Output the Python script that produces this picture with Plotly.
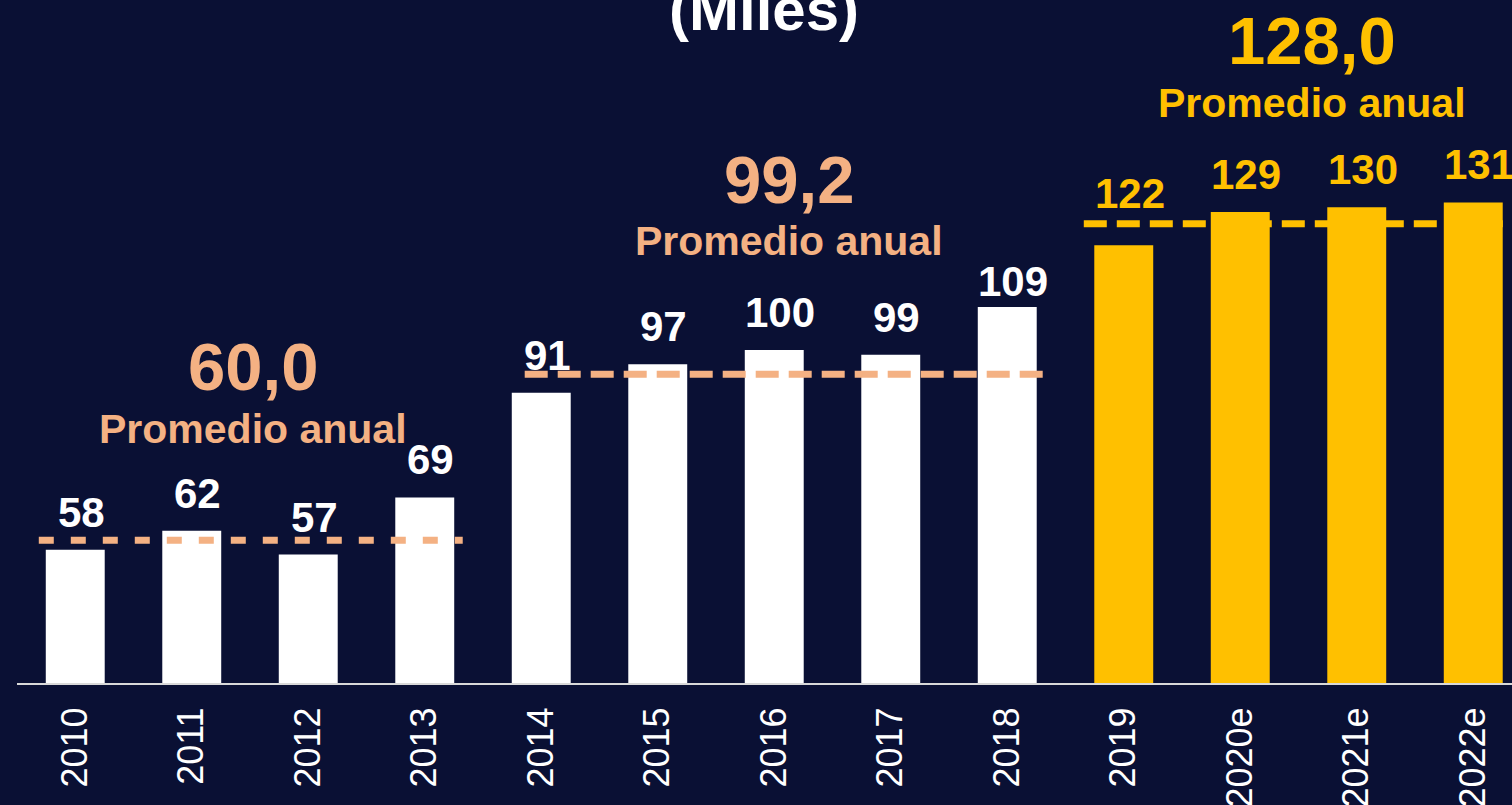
import plotly.graph_objects as go

# ---------------- data ----------------
years = ["2010", "2011", "2012", "2013", "2014", "2015", "2016", "2017", "2018",
         "2019", "2020e", "2021e", "2022e"]
values = [58, 62, 57, 69, 91, 97, 100, 99, 109, 122, 129, 130, 131]
group_of_year = [0, 0, 0, 0, 1, 1, 1, 1, 1, 2, 2, 2, 2]
avg_text = ["60,0", "99,2", "128,0"]
avg_caption = "Promedio anual"
avg_line_level = [60.0, 94.9, 126.5]      # level of dashed lines as drawn
title_text = "(Miles)"

# ---------------- style ----------------
BG = "#0a1034"
PEACH = "#F4B183"
GOLD = "#FFC000"
WHITE = "#FFFFFF"
group_bar_color = [WHITE, WHITE, GOLD]
group_line_color = [PEACH, PEACH, GOLD]
group_text_color = [PEACH, PEACH, GOLD]
FONT_B = "Liberation Sans, Arial, sans-serif"
FONT_TICK = "Liberation Sans Narrow, Arial Narrow, Liberation Sans, sans-serif"

W, H = 1512, 805
ML, MR, MT, MB = 17, 0, 0, 122
Y0 = 30
PX_PER_UNIT = 4.758
Y1 = Y0 + (H - MT - MB) / PX_PER_UNIT
X0 = -0.5
X1 = X0 + (W - ML - MR) / 116.5

x_idx = list(range(len(years)))
bar_colors = [group_bar_color[g] for g in group_of_year]

fig = go.Figure()
fig.add_trace(go.Bar(x=x_idx, y=values, marker_color=bar_colors, width=0.506,
                     marker_line_width=0, hoverinfo="skip", showlegend=False))

# dashed average lines (extents in category units relative to the group)
line_extent = [(-0.313, 3.326), (3.858, 8.39), (8.657, X1 + 0.2)]
line_dash = ["15px,17px", "23px,10px", "23px,10px"]
for g in range(3):
    xa, xb = line_extent[g]
    fig.add_trace(go.Scatter(x=[xa, xb], y=[avg_line_level[g]] * 2, mode="lines",
                             line=dict(color=group_line_color[g], width=7, dash=line_dash[g]),
                             hoverinfo="skip", showlegend=False, cliponaxis=False))

annotations = []
# value labels
label_extra = {8: -12, 9: 14}
for i, v in enumerate(values):
    g = group_of_year[i]
    annotations.append(dict(
        x=i, y=v, xref="x", yref="y", text=f"<b>{v}</b>", showarrow=False,
        yanchor="bottom", xanchor="center", xshift=6, yshift=12 + label_extra.get(i, 0),
        font=dict(family=FONT_B, size=42, color=GOLD if g == 2 else WHITE)))

def py2v(py):
    return Y0 + (H - MB - py) / PX_PER_UNIT

def px2x(px):
    return X0 + (px - ML) / 116.5

avg_pos = [(253, 366, 429), (789, 179.5, 241), (1312, 40, 103)]
for g in range(3):
    cx, ny, cy = avg_pos[g]
    annotations.append(dict(x=px2x(cx), y=py2v(ny), xref="x", yref="y",
                            text=f"<b>{avg_text[g]}</b>", showarrow=False,
                            xanchor="center", yanchor="middle",
                            font=dict(family=FONT_B, size=67, color=group_text_color[g])))
    annotations.append(dict(x=px2x(cx), y=py2v(cy), xref="x", yref="y",
                            text=f"<b>{avg_caption}</b>", showarrow=False,
                            xanchor="center", yanchor="middle",
                            font=dict(family=FONT_B, size=41, color=group_text_color[g])))

annotations.append(dict(x=px2x(764), y=py2v(9), xref="x", yref="y",
                        text=f"<b>{title_text}</b>", showarrow=False,
                        xanchor="center", yanchor="middle",
                        font=dict(family=FONT_B, size=60, color=WHITE)))

fig.update_layout(
    width=W, height=H, paper_bgcolor=BG, plot_bgcolor=BG,
    margin=dict(l=ML, r=MR, t=MT, b=MB, pad=0, autoexpand=False),
    bargap=0.49, annotations=annotations, showlegend=False,
    xaxis=dict(range=[X0, X1], tickmode="array", tickvals=x_idx, ticktext=years,
               tickangle=-90, showgrid=False, zeroline=False, showline=True,
               linecolor="#d9d9d9", linewidth=2, ticks="", ticklabelstandoff=8,
               automargin=False,
               tickfont=dict(family=FONT_TICK, size=36, color=WHITE), fixedrange=True),
    yaxis=dict(range=[Y0, Y1], visible=False, showgrid=False, zeroline=False,
               automargin=False, fixedrange=True),
)

fig.write_html("out.html", config={"displayModeBar": False},
               post_script="document.body.style.margin='0';document.body.style.background='%s';" % BG)
